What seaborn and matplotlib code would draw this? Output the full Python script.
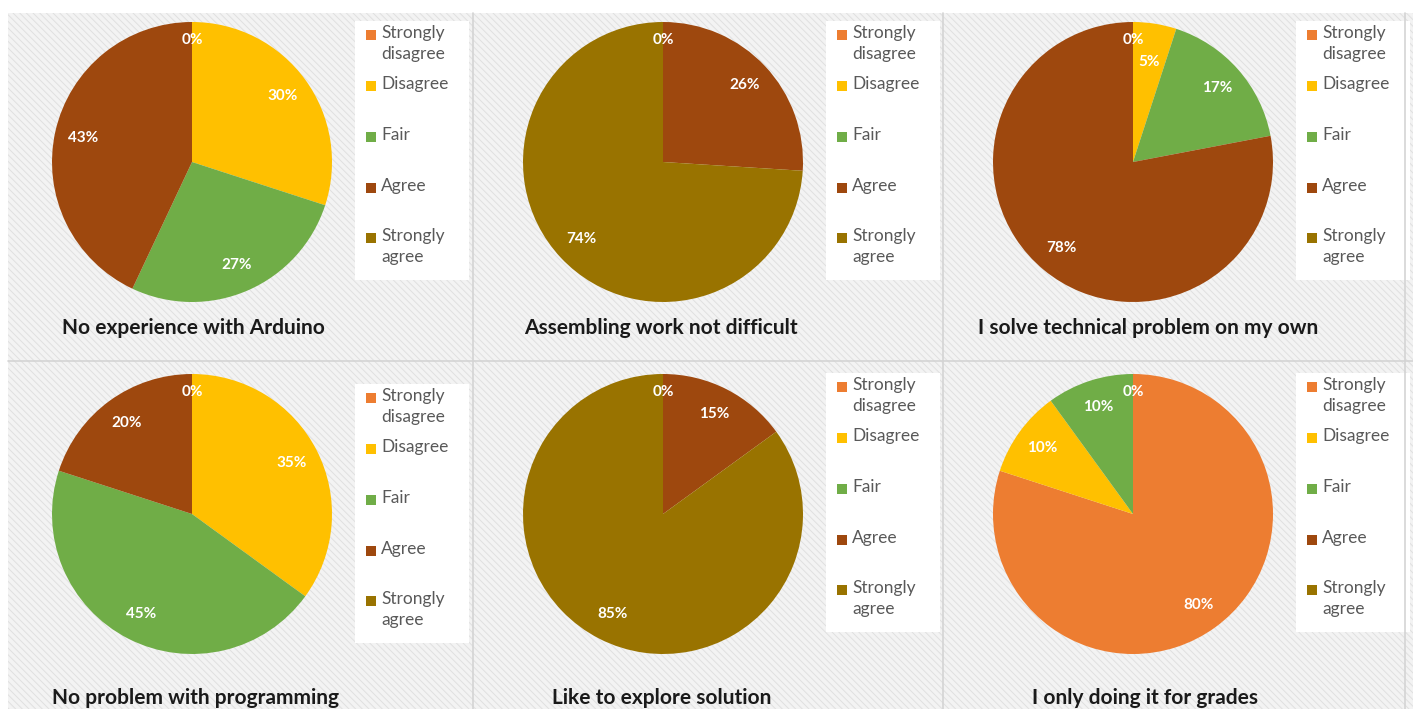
import matplotlib
matplotlib.use("Agg")
import matplotlib.pyplot as plt
import seaborn as sns
import numpy as np
from matplotlib.patches import Rectangle

# ---- survey data (percent of respondents) ----
categories = ["Strongly disagree", "Disagree", "Fair", "Agree", "Strongly agree"]
legend_labels = ["Strongly\ndisagree", "Disagree", "Fair", "Agree", "Strongly\nagree"]

titles = [
    "No experience with Arduino",
    "Assembling work not difficult",
    "I solve technical problem on my own",
    "No problem with programming",
    "Like to explore solution",
    "I only doing it for grades",
]

no_experience = [0, 30, 27, 43, 0]
assembling_easy = [0, 0, 0, 26, 74]
solve_own = [0, 5, 17, 78, 0]
programming_ok = [0, 35, 45, 20, 0]
explore_solution = [0, 0, 0, 15, 85]
only_grades = [80, 10, 10, 0, 0]

series = [no_experience, assembling_easy, solve_own,
          programming_ok, explore_solution, only_grades]

slice_colors = ["#ED7D31", "#FFC000", "#70AD47", "#9E480E", "#997300"]

# ---- styling ----
sns.set_theme(style="white")
plt.rcParams["font.family"] = ["Lato", "DejaVu Sans"]
plt.rcParams["hatch.linewidth"] = 0.7
palette = sns.color_palette(slice_colors)

W, H = 1413, 709
fig = plt.figure(figsize=(W / 100, H / 100), dpi=100)
fig.patch.set_facecolor("white")

# background layer in pixel coordinates
bg = fig.add_axes([0, 0, 1, 1], zorder=0)
bg.set_xlim(0, W)
bg.set_ylim(H, 0)
bg.axis("off")
bg.add_patch(Rectangle((8, 13), W - 8, H - 13, facecolor="#f3f3f3",
                       edgecolor="#e0e0e0", hatch="\\\\\\\\\\", lw=0))
line_kw = dict(color="#d4d4d4", lw=1.2)
bg.plot([473, 473], [13, H], **line_kw)
bg.plot([943, 943], [13, H], **line_kw)
bg.plot([1405, 1405], [13, H], **line_kw)
bg.plot([8, W], [361, 361], **line_kw)

# panel geometry (pixels)
pie_cx = [192, 663, 1133]
pie_cy = [162, 514]
radius = 140
title_x = [193, 661, 1148, 196, 662, 1145]
title_y = [328, 698]
legend_dy = [0, 0, 0, 11, 0, 0]
entry_offsets = [-127, -76, -25, 26, 76]
label_dist = 0.8        # distance of value labels from the centre
zero_label_dist = 0.87  # empty categories sit a bit further out
thin_label_dist = 0.72  # very thin slices pull their label inward


def label_radius(v):
    if v == 0:
        return zero_label_dist
    if v < 8:
        return thin_label_dist
    return label_dist


for i, values in enumerate(series):
    row, col = divmod(i, 3)
    cx, cy = pie_cx[col], pie_cy[row]

    ax = fig.add_axes([(cx - radius) / W, 1 - (cy + radius) / H,
                       2 * radius / W, 2 * radius / H], zorder=2)
    wedges, _, autotexts = ax.pie(
        values, colors=palette, startangle=90, counterclock=False,
        autopct=lambda p: f"{p:.0f}%", pctdistance=label_dist,
        wedgeprops=dict(linewidth=0),
        textprops=dict(color="white", fontsize=11, fontweight="bold"),
    )
    seen_zero = False
    for v, w, t in zip(values, wedges, autotexts):
        if v == 0:
            if seen_zero:
                t.set_visible(False)
                continue
            seen_zero = True
        ang = np.deg2rad((w.theta1 + w.theta2) / 2)
        r = label_radius(v)
        t.set_position((r * np.cos(ang), r * np.sin(ang)))
    ax.set_xlim(-1, 1)
    ax.set_ylim(-1, 1)
    ax.set_aspect("equal")
    ax.axis("off")

    # legend block
    mx = cx + 179
    ys = [cy + o + legend_dy[i] for o in entry_offsets]
    bg.add_patch(Rectangle((mx - 16, ys[0] - 14), 114, ys[-1] - ys[0] + 56,
                           facecolor="white", edgecolor="none", zorder=1))
    for y, lab, col_ in zip(ys, legend_labels, palette):
        bg.scatter([mx], [y], marker="s", s=55, color=col_, zorder=3,
                   linewidths=0)
        bg.text(mx + 10, y - 10, lab, fontsize=12.5, color="#595959",
                ha="left", va="top", zorder=3, linespacing=1.35)

    bg.text(title_x[i], title_y[row], titles[i], fontsize=15,
            fontweight="bold", color="#1a1a1a", ha="center", va="center",
            zorder=3)

fig.savefig("out.png", dpi=100, facecolor="white")
